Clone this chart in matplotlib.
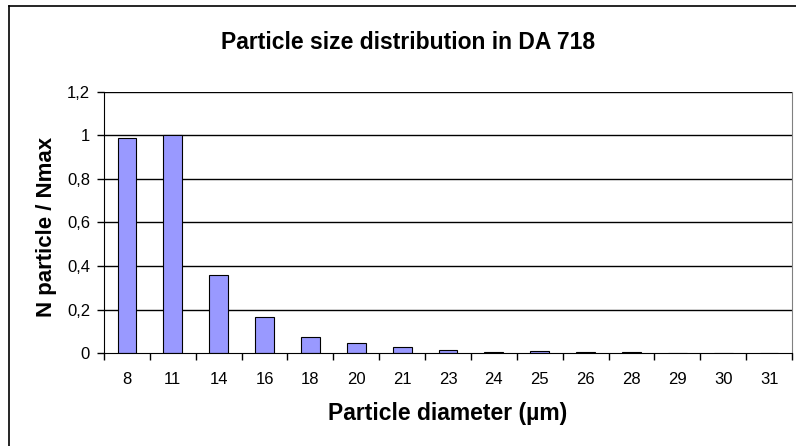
import matplotlib
matplotlib.use("Agg")
import matplotlib.pyplot as plt
from matplotlib.lines import Line2D
import numpy as np

categories = ["8", "11", "14", "16", "18", "20", "21", "23", "24", "25", "26", "28", "29", "30", "31"]
values = [0.99, 1.0, 0.36, 0.165, 0.072, 0.045, 0.027, 0.012, 0.006, 0.009, 0.003, 0.003, 0.0, 0.0, 0.0]
yticks = [0, 0.2, 0.4, 0.6, 0.8, 1.0, 1.2]
ytick_labels = ["0", "0,2", "0,4", "0,6", "0,8", "1", "1,2"]

plt.rcParams['font.family'] = ['Liberation Sans', 'DejaVu Sans']

W, H = 796, 446
fig = plt.figure(figsize=(W/100, H/100), dpi=100)
ax = fig.add_axes([104/W, 1-353/H, (792-104)/W, (353-92)/H])

x = np.arange(len(categories))
ax.bar(x, values, width=0.41, color="#9999FF", edgecolor="black", linewidth=0.8, zorder=3)

ax.set_xlim(-0.5, len(categories) - 0.5)
ax.set_ylim(0, 1.2)
ax.set_yticks(yticks)
ax.set_yticklabels(ytick_labels, fontsize=12)
ax.set_xticks(x)
ax.set_xticklabels(categories, fontsize=12)
ax.tick_params(axis='x', length=0, pad=14)
ax.set_xticks(np.arange(-0.5, len(categories), 1), minor=True)
ax.tick_params(axis='x', which='minor', length=5, width=1, direction='out')
ax.tick_params(axis='y', length=5, width=1, direction='out', pad=5)

for y in yticks[1:]:
    ax.axhline(y, color="black", linewidth=1, zorder=1)

ax.spines['top'].set_visible(False)
ax.spines['right'].set_color("#808080")
ax.spines['left'].set_color("black")
ax.spines['bottom'].set_color("black")
ax.spines['bottom'].set_zorder(4)

fig.text(448/W, 1-420/H, "Particle diameter (µm)", fontsize=16.5, fontweight='bold',
         ha='center', va='baseline')
fig.text(52/W, 1-227/H, "N particle / Nmax", fontsize=16, fontweight='bold',
         ha='center', va='baseline', rotation=90, rotation_mode='anchor')

fig.text(408/W, 1-49/H, "Particle size distribution in DA 718", fontsize=16.5,
         fontweight='bold', ha='center', va='baseline')

# outer chart border (left and top visible)
fig.add_artist(Line2D([9/W, 9/W], [0, 1-6/H], color="black", linewidth=1.2, transform=fig.transFigure))
fig.add_artist(Line2D([9/W, 1], [1-6/H, 1-6/H], color="black", linewidth=1.2, transform=fig.transFigure))

fig.savefig("out.png", dpi=100)
